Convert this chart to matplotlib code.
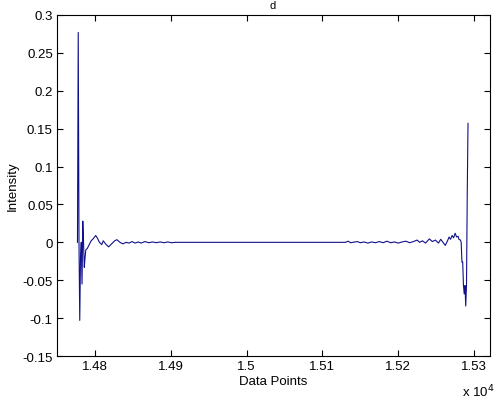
import matplotlib
matplotlib.use("Agg")
from matplotlib import pyplot as plt
from matplotlib.ticker import FuncFormatter

# points (data index, intensity)
data_x = [14777, 14778, 14779, 14780, 14781, 14782, 14783, 14784, 14785, 14786,
          14787, 14788, 14790, 14792, 14795, 14798, 14801, 14803, 14806, 14809,
          14811, 14814, 14818, 14822, 14826, 14829, 14833, 14837, 14841, 14845,
          14849, 14853, 14857, 14861, 14866, 14871, 14876, 14881, 14886, 14891,
          14896, 14901, 14906, 14912, 15130, 15134, 15137, 15140, 15146, 15150,
          15155, 15160, 15165, 15170, 15175, 15180, 15185, 15190, 15195, 15200,
          15205, 15210, 15215, 15220, 15225, 15228, 15232, 15236, 15241, 15245,
          15249, 15253, 15256, 15259, 15262, 15265, 15267, 15269, 15271, 15273,
          15275, 15277, 15279, 15280, 15282, 15283, 15284, 15285, 15286, 15287,
          15288, 15289, 15290, 15291, 15292]
data_y = [0.0, 0.277, 0.0, -0.103, -0.02, 0.0, -0.055, 0.028, 0.0, -0.033,
          -0.02, -0.01, -0.008, -0.004, 0.002, 0.005, 0.009, 0.006, 0.0, -0.003,
          0.002, -0.002, -0.006, -0.002, 0.002, 0.0035, 0.0, -0.002, 0.0, -0.001,
          0.001, -0.001, 0.0005, -0.001, 0.001, -0.0005, 0.0005, -0.0005, 0.0005, -0.0005,
          0.0005, -0.0005, 0.0, 0.0, 0.0, 0.0015, -0.0005, 0.0, 0.001, -0.0005,
          0.0005, -0.001, 0.0005, -0.0005, 0.001, -0.0005, 0.0015, -0.0005, 0.0005, -0.001,
          0.0005, 0.0015, -0.0005, 0.001, 0.003, 0.0, 0.002, -0.001, 0.0045, 0.001,
          0.003, -0.001, 0.004, 0.0, -0.004, 0.002, 0.007, 0.004, 0.009, 0.006,
          0.012, 0.007, 0.008, 0.004, 0.003, 0.0, -0.026, -0.026, -0.057, -0.068,
          -0.057, -0.084, -0.056, 0.064, 0.157]

x_ticks = [14800, 14900, 15000, 15100, 15200, 15300]
y_ticks = [-0.15, -0.1, -0.05, 0, 0.05, 0.1, 0.15, 0.2, 0.25, 0.3]

plt.rcParams['font.family'] = ['Liberation Sans', 'DejaVu Sans']
plt.rcParams['font.size'] = 9.5

fig = plt.figure(figsize=(4.97, 4.02), dpi=100)
ax = fig.add_axes([57 / 497, 1 - 357 / 402, 433 / 497, 341 / 402])
ax.plot(data_x, data_y, color='#10108c', linewidth=0.8)

ax.set_xlim(14750, 15321)
ax.set_ylim(-0.15, 0.3)
ax.set_xticks(x_ticks)
ax.set_yticks(y_ticks)
ax.xaxis.set_major_formatter(FuncFormatter(lambda v, p: '%g' % (v / 1e4)))
ax.yaxis.set_major_formatter(FuncFormatter(lambda v, p: '%g' % v))
ax.tick_params(direction='in', top=True, right=True, length=4, width=0.8, pad=3)
for s in ax.spines.values():
    s.set_linewidth(0.8)

ax.set_xlabel('Data Points', labelpad=2)
ax.set_ylabel('Intensity', labelpad=3)
fig.text(462 / 497, 1 - 392 / 402, r'x 10$^4$', ha='left', va='center')
fig.text(273 / 497, 1 - 1 / 402, 'd', ha='center', va='top', fontsize=8)

fig.savefig('out.png', dpi=100)
